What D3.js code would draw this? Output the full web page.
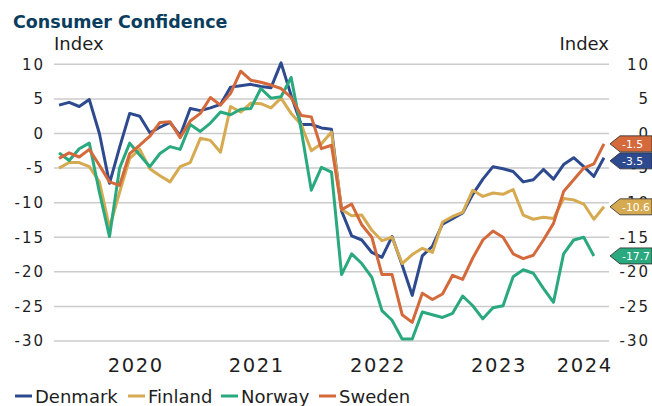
<!DOCTYPE html>
<html>
<head>
<meta charset="utf-8">
<script src="https://cdn.jsdelivr.net/npm/d3@7"></script>
<style>
  html, body { margin: 0; padding: 0; background: #fff; }
  svg { display: block; }
  text { font-family: "DejaVu Sans", sans-serif; fill: #1e1e1e; }
</style>
</head>
<body>
<svg id="chart" width="652" height="406"></svg>
<script>
// ---------- DATA ----------
const months = [
  "2019-11","2019-12",
  "2020-01","2020-02","2020-03","2020-04","2020-05","2020-06","2020-07","2020-08","2020-09","2020-10","2020-11","2020-12",
  "2021-01","2021-02","2021-03","2021-04","2021-05","2021-06","2021-07","2021-08","2021-09","2021-10","2021-11","2021-12",
  "2022-01","2022-02","2022-03","2022-04","2022-05","2022-06","2022-07","2022-08","2022-09","2022-10","2022-11","2022-12",
  "2023-01","2023-02","2023-03","2023-04","2023-05","2023-06","2023-07","2023-08","2023-09","2023-10","2023-11","2023-12",
  "2024-01","2024-02","2024-03","2024-04","2024-05"
];
const seriesNames = ["Denmark", "Finland", "Norway", "Sweden"];
const seriesColors = ["#2e4a8f", "#d6aa50", "#2aa97e", "#d4693b"];

const denmark = [4.1,4.5,3.9,4.9,0.0,-7.2,-2.0,2.9,2.5,0.1,0.9,1.6,-0.3,3.6,3.3,3.7,4.2,6.7,6.9,7.1,6.8,6.6,10.2,5.5,1.3,1.3,0.8,0.6,
  -11.2,-14.8,-15.4,-17.2,-17.9,-14.9,-19.0,-23.4,-17.7,-16.3,-13.1,-12.3,-11.5,-8.8,-6.6,-4.8,-5.1,-5.5,-7.0,-6.7,-5.2,-6.6,-4.5,-3.5,-4.8,-6.2,-3.5];
const finland = [-5.0,-4.2,-4.2,-4.8,-7.0,-13.6,-8.5,-3.6,-2.3,-5.1,-6.1,-7.0,-4.8,-4.2,-0.7,-1.0,-2.7,3.9,3.1,4.4,4.3,3.7,5.1,2.9,1.3,-2.5,-1.5,0.2,
  -11.0,-11.9,-11.8,-14.0,-15.5,-15.0,-18.8,-17.5,-16.6,-17.2,-12.8,-12.0,-11.4,-8.2,-9.1,-8.6,-8.8,-8.1,-11.8,-12.4,-12.1,-12.3,-9.4,-9.6,-10.2,-12.4,-10.6];
const norway = [-2.8,-3.9,-2.2,-1.4,-8.5,-14.9,-5.0,-1.4,-3.1,-4.8,-2.9,-1.9,-2.3,1.3,0.3,1.5,3.1,2.7,3.5,3.6,6.5,5.1,5.3,8.1,0.5,-8.2,-4.9,-5.6,
  -20.4,-17.4,-18.8,-20.8,-25.6,-27.0,-29.7,-29.7,-25.8,-26.2,-26.6,-26.0,-23.5,-24.9,-26.8,-25.2,-24.9,-20.7,-19.7,-20.2,-22.4,-24.4,-17.4,-15.4,-15.0,-17.7,null];
const sweden = [-3.6,-2.8,-3.4,-2.3,-4.6,-7.0,-7.5,-2.9,-1.7,-0.4,1.6,1.7,-0.6,1.8,2.9,5.2,4.1,5.8,9.0,7.7,7.4,7.0,6.5,5.2,2.6,2.4,-2.2,-1.7,
  -11.0,-10.2,-13.2,-15.0,-20.4,-20.4,-26.2,-27.3,-23.1,-24.0,-23.2,-20.5,-21.1,-18.0,-15.4,-14.1,-15.0,-17.4,-18.1,-17.6,-15.4,-13.0,-8.4,-6.7,-5.0,-4.4,-1.5];

const yTicks = [10, 5, 0, -5, -10, -15, -20, -25, -30];
const yearLabels = ["2020", "2021", "2022", "2023", "2024"];
const titleText = "Consumer Confidence";
const axisTitle = "Index";

// ---------- CHART ----------
const svg = d3.select("#chart");
const seriesValues = [denmark, finland, norway, sweden];
const loc = d3.formatLocale({ decimal: ".", thousands: ",", grouping: [3], currency: ["", ""], minus: "-" });
const fmtInt = loc.format("d");
const fmt1 = loc.format(".1f");

const x = d3.scaleBand().domain(months).range([54, 609]);
const xc = m => x(m) + x.bandwidth() / 2;
const y = d3.scaleLinear().domain([-30, 10]).range([341, 64.3]);

// title
svg.append("text").attr("x", 13).attr("y", 28)
  .style("font-size", "17.5px").style("font-weight", "bold").style("fill", "#0b3d5e")
  .text(titleText);

// axis titles
svg.append("text").attr("x", 54).attr("y", 50).style("font-size", "18px").text(axisTitle);
svg.append("text").attr("x", 609).attr("y", 50).attr("text-anchor", "end").style("font-size", "18px").text(axisTitle);

// gridlines
svg.append("g").selectAll("line").data(yTicks).join("line")
  .attr("x1", 54).attr("x2", 609)
  .attr("y1", d => y(d)).attr("y2", d => y(d))
  .attr("stroke", "#cbcbcb").attr("stroke-width", 1.5);

// left axis
const gl = svg.append("g").attr("transform", "translate(45,0)")
  .call(d3.axisLeft(y).tickValues(yTicks).tickSize(0).tickPadding(0).tickFormat(fmtInt));
gl.select(".domain").remove();
gl.selectAll("text").style("font-size", "15px").style("letter-spacing", "2px")
  .style("font-family", "DejaVu Sans").style("fill", "#1e1e1e");

// right axis
const gr = svg.append("g").attr("transform", "translate(650,0)")
  .call(d3.axisRight(y).tickValues(yTicks).tickSize(0).tickPadding(0).tickFormat(fmtInt));
gr.select(".domain").remove();
gr.selectAll("text").attr("text-anchor", "end").style("font-size", "15px").style("letter-spacing", "2px")
  .style("font-family", "DejaVu Sans").style("fill", "#1e1e1e");

// year labels (centered over each year's months)
svg.append("g").selectAll("text").data(yearLabels).join("text")
  .attr("x", yr => d3.mean(months.filter(m => m.startsWith(yr)), xc) + 1)
  .attr("y", 372)
  .attr("text-anchor", "middle")
  .style("font-size", "19.5px").style("letter-spacing", "1.6px")
  .text(d => d);

// lines
const line = d3.line()
  .defined(d => d.v !== null)
  .x(d => xc(d.m)).y(d => y(d.v));

seriesValues.forEach((vals, i) => {
  const pts = months.map((m, j) => ({ m, v: vals[j] }));
  svg.append("path").datum(pts)
    .attr("fill", "none")
    .attr("stroke", seriesColors[i])
    .attr("stroke-width", 3)
    .attr("stroke-linejoin", "round")
    .attr("d", line);
});

// end tags
const tags = seriesValues.map((vals, i) => {
  let j = vals.length - 1;
  while (vals[j] === null) j--;
  return { v: vals[j], color: seriesColors[i], cy: y(vals[j]) };
}).sort((a, b) => a.cy - b.cy);
const tagH = 16;
for (let k = 1; k < tags.length; k++) {
  const minY = tags[k - 1].cy + tagH + 1;
  if (tags[k].cy < minY) tags[k].cy = minY;
}
const tg = svg.append("g").selectAll("g").data(tags).join("g");
tg.append("path")
  .attr("d", d => `M610,${d.cy} L620,${d.cy - tagH / 2} L652,${d.cy - tagH / 2} L652,${d.cy + tagH / 2} L620,${d.cy + tagH / 2} Z`)
  .attr("fill", d => d.color).attr("stroke", "#2b2b2b").attr("stroke-width", 0.8);
tg.append("text")
  .attr("x", 622).attr("y", d => d.cy + 4)
  .style("font-size", "10.8px").style("fill", "#ffffff")
  .text(d => fmt1(d.v));

// legend
const legendX = [15, 128, 221, 319];
const lg = svg.append("g");
seriesNames.forEach((name, i) => {
  const lx = legendX[i];
  lg.append("line").attr("x1", lx).attr("x2", lx + 17).attr("y1", 396).attr("y2", 396)
    .attr("stroke", seriesColors[i]).attr("stroke-width", 3);
  lg.append("text").attr("x", lx + 20).attr("y", 402.5)
    .style("font-size", "18px").text(name);
});
</script>
</body>
</html>
